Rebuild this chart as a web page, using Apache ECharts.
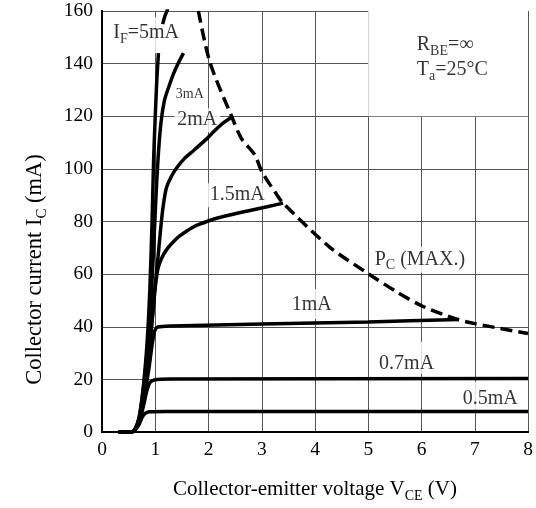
<!DOCTYPE html>
<html><head><meta charset="utf-8">
<script src="https://cdn.jsdelivr.net/npm/echarts@6/dist/echarts.min.js"></script>
<style>html,body{margin:0;padding:0;background:#fff}#c{width:536px;height:508px}</style>
</head><body><div id="c"></div>
<script>
// Axis ranges / ticks
const xRange = [0, 8, 1];
const yRange = [0, 160, 20];

// Curves: [VCE (V), IC (mA)]
const curve5mA = [[0.3,0],[0.55,0],[0.62,1],[0.7,6],[0.78,18],[0.85,35],[0.9,55],[0.94,80],[0.97,104],[1.0,120],[1.03,134],[1.06,144],null,[1.14,155],[1.18,158],[1.22,160],[1.26,163]];
const curve3mA = [[0.3,0],[0.55,0],[0.62,1],[0.7,5.5],[0.78,17],[0.86,33],[0.92,50],[0.97,70],[1.01,88],[1.05,103],[1.09,114],[1.13,121],[1.18,126.6],[1.26,131.5],[1.34,136],[1.44,140.5],[1.53,144]];
const curve2mA = [[0.3,0],[0.55,0],[0.62,1],[0.7,5],[0.8,16],[0.88,30],[0.95,45],[1.0,56],[1.05,66],[1.1,77],[1.15,86],[1.21,92.8],[1.3,97],[1.4,100.3],[1.55,104],[1.71,106.8],[1.97,111.5],[2.09,114],[2.25,117],[2.44,119.7]];
const curve1_5mA = [[0.3,0],[0.55,0],[0.62,1],[0.7,5],[0.8,16],[0.88,30],[0.95,44],[1.0,55],[1.05,62],[1.12,66],[1.22,69.5],[1.35,72.5],[1.46,74.5],[1.6,76.5],[1.75,78.3],[1.97,80],[2.2,81.5],[2.4,82.5],[2.8,84.3],[3.1,85.6],[3.4,87]];
const curve1mA = [[0.3,0],[0.55,0],[0.62,1],[0.7,5],[0.8,14],[0.88,24],[0.94,33],[0.99,38.5],[1.05,39.9],[1.3,40.3],[3,41],[5,41.8],[6.7,42.8]];
const curve0_7mA = [[0.3,0],[0.55,0],[0.62,0.8],[0.7,4],[0.78,10],[0.84,15.5],[0.9,18.8],[0.98,19.8],[1.3,20.1],[8,20.3]];
const curve0_5mA = [[0.3,0],[0.55,0],[0.62,0.8],[0.7,3],[0.76,5.8],[0.82,7.2],[0.9,7.7],[1.2,7.8],[8,7.8]];
const pcMax = [[1.81,160],[2.03,140.3],[2.44,119.7],[2.62,111.5],[2.87,105.3],[3.0,99],[3.28,90.3],[3.4,87],[4.28,70.2],[5.0,60.2],[5.53,53.3],[6.03,47.7],[6.66,42.9],[7.0,41.2],[8.0,37.4]];

// White note box (data coords)
const noteBox = [[5,120],[8,160]];

// Annotation texts and their data positions
const annX = [0.83, 1.65, 1.79, 2.54, 5.97, 3.94, 5.72, 7.29, 5.91, 5.91];
const annY = [150.8, 128.5, 118.5, 90, 65.5, 48.6, 28.2, 13.6, 147, 137.5];
const annText = ['{n|I}{s|F}{n|=5mA}', '{m|3mA}', '{n|2mA}', '{n|1.5mA}', '{n|P}{s|C}{n| (MAX.)}', '{n|1mA}', '{n|0.7mA}', '{n|0.5mA}', '{n|R}{s|BE}{n|=∞}', '{n|T}{s|a}{n|=25°C}'];

const FONT = 'Liberation Serif';
const rich = {
  n: {fontFamily: FONT, fontSize: 20, color: '#000'},
  m: {fontFamily: FONT, fontSize: 14, color: '#000'},
  s: {fontFamily: FONT, fontSize: 14, color: '#000', padding: [12,0,0,0]}
};
const annStyle = [
  {padding:[3,3,7,3], bg:true, align:'center'},
  {padding:[2,3,2,3], bg:true, align:'center'},
  {padding:[2,3,2,3], bg:true, align:'center'},
  {padding:[2,3,2,3], bg:true, align:'center'},
  {padding:[0,3,0,3], bg:true, align:'center'},
  {padding:[6,3,4,3], bg:true, align:'center'},
  {padding:[12,3,0,3], bg:true, align:'center'},
  {padding:[7,3,2,3], bg:true, align:'center'},
  {padding:0, bg:false, align:'left'},
  {padding:0, bg:false, align:'left'}
];

const chart = echarts.init(document.getElementById('c'), null, {renderer:'canvas'});
function curve(data, extra) {
  return Object.assign({
    type: 'line', data: data, symbol: 'none', smooth: 0.25, connectNulls: false, z: 3,
    lineStyle: {color: '#000', width: 3.5}, silent: true, animation: false
  }, extra || {});
}
const annData = annX.map((x, i) => ({
  value: [x, annY[i]],
  label: {
    show: true, position: 'inside', formatter: annText[i], rich: rich,
    align: annStyle[i].align, verticalAlign: 'middle',
    backgroundColor: annStyle[i].bg ? '#fff' : 'transparent',
    padding: annStyle[i].padding
  }
}));
const xNameRich = {n:{fontFamily:FONT,fontSize:21,color:'#000'}, s:{fontFamily:FONT,fontSize:14,color:'#000',padding:[13,0,0,0]}};
const yNameRich = {n:{fontFamily:FONT,fontSize:22.5,color:'#000'}, s:{fontFamily:FONT,fontSize:15,color:'#000',padding:[14,0,0,0]}};

chart.setOption({
  animation: false,
  backgroundColor: '#fff',
  grid: {left: 102, right: 8, top: 11, bottom: 71},
  xAxis: [{
    type: 'value', min: xRange[0], max: xRange[1], interval: xRange[2],
    axisLine: {show: true, lineStyle: {color: '#000', width: 2}},
    axisTick: {show: false},
    axisLabel: {color: '#000', fontFamily: FONT, fontSize: 19.5, margin: 8},
    splitLine: {show: true, lineStyle: {color: '#555', width: 1}},
    name: '{n|Collector-emitter voltage V}{s|CE}{n| (V)}',
    nameLocation: 'middle', nameGap: 44,
    nameTextStyle: {rich: xNameRich}
  },{
    type: 'value', position: 'top', min: xRange[0], max: xRange[1], interval: xRange[2], z: 10,
    axisLine: {show: true, lineStyle: {color: '#000', width: 2}},
    axisTick: {show: false}, axisLabel: {show: false}, splitLine: {show: false}
  }],
  yAxis: [{
    type: 'value', min: yRange[0], max: yRange[1], interval: yRange[2],
    axisLine: {show: true, lineStyle: {color: '#000', width: 2}},
    axisTick: {show: false},
    axisLabel: {color: '#000', fontFamily: FONT, fontSize: 19.5, margin: 9},
    splitLine: {show: true, lineStyle: {color: '#555', width: 1}},
    name: '{n|Collector current I}{s|C}{n| (mA)}',
    nameLocation: 'middle', nameGap: 52, nameRotate: 90,
    nameTextStyle: {rich: yNameRich, padding: [0, 96, 0, 0]}
  },{
    type: 'value', position: 'right', min: yRange[0], max: yRange[1], interval: yRange[2], z: 10,
    axisLine: {show: true, lineStyle: {color: '#000', width: 2}},
    axisTick: {show: false}, axisLabel: {show: false}, splitLine: {show: false}
  }],
  series: [
    {type: 'line', data: noteBox, symbol: 'none', lineStyle: {width: 0, opacity: 0}, z: 1, silent: true,
     markArea: {silent: true, itemStyle: {color: '#fff', opacity: 1}, data: [[{coord: noteBox[0]}, {coord: noteBox[1]}]]}},
    {type: 'scatter', data: annData, symbolSize: 1, itemStyle: {color: 'transparent'}, z: 2, silent: true},
    curve(curve0_5mA), curve(curve0_7mA), curve(curve1mA), curve(curve1_5mA),
    curve(curve2mA), curve(curve3mA), curve(curve5mA),
    curve(pcMax, {lineStyle: {color: '#000', width: 3.5, type: [12, 6]}, smooth: 0.3})
  ]
});
</script></body></html>
